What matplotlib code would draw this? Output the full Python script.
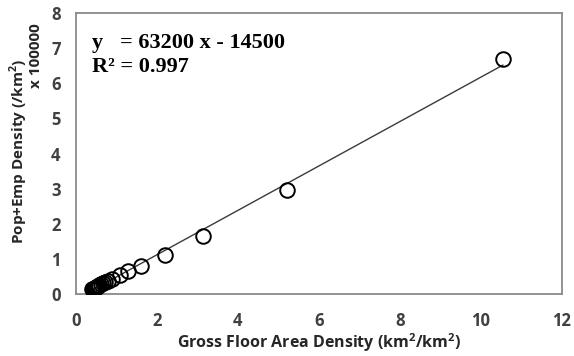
import matplotlib
matplotlib.use("Agg")
import matplotlib.pyplot as plt
import numpy as np

# Data (x: gross floor area density, y: pop+emp density in units of 100000 /km2)
gfa_density = [0.40, 0.42, 0.44, 0.46, 0.48, 0.50, 0.52, 0.55, 0.58, 0.62,
               0.67, 0.72, 0.78, 0.90, 1.08, 1.29, 1.61, 2.19, 3.14, 5.21, 10.54]
pop_emp_density = [0.13, 0.14, 0.15, 0.17, 0.18, 0.19, 0.21, 0.23, 0.25, 0.28,
                   0.31, 0.34, 0.38, 0.44, 0.53, 0.66, 0.81, 1.12, 1.65, 2.97, 6.68]
slope = 63200
intercept = -14500
scale = 100000

x_ticks = [0, 2, 4, 6, 8, 10, 12]
y_ticks = [0, 1, 2, 3, 4, 5, 6, 7, 8]

sans = ["Open Sans", "DejaVu Sans"]
tick_color = "#404040"
spine_color = "#8a8a8a"

fig = plt.figure(figsize=(5.74, 3.56), dpi=100)
ax = fig.add_axes([0.1324, 0.174, 0.979 - 0.1324, 0.9635 - 0.174])

x = np.array(gfa_density)
y = np.array(pop_emp_density)
xl = np.array([x.min(), x.max()])
ax.plot(xl, (slope * xl + intercept) / scale, color="#3a3a3a", lw=1.0, zorder=2)
ax.plot(x, y, linestyle="none", marker="o", markersize=10.5, markerfacecolor="none",
        markeredgecolor="black", markeredgewidth=1.4, zorder=3)

ax.set_xlim(0, 12)
ax.set_ylim(0, 8)
ax.set_xticks(x_ticks)
ax.set_yticks(y_ticks)
ax.tick_params(length=0, labelsize=12, colors=tick_color)
ax.tick_params(axis="x", pad=13)
ax.tick_params(axis="y", pad=11)
for lab in ax.get_xticklabels() + ax.get_yticklabels():
    lab.set_fontfamily(sans)
    lab.set_fontweight("bold")
for s in ax.spines.values():
    s.set_color(spine_color)
    s.set_linewidth(1.3)

ax.set_xlabel("Gross Floor Area Density (km$^{\\mathregular{2}}$/km$^{\\mathregular{2}}$)",
              fontsize=11.5, fontweight="bold", family=sans, color="#262626", labelpad=1)
fig.text(0.032, 0.574, "Pop+Emp Density (/km$^{\\mathregular{2}}$)", rotation=90,
         fontsize=11, fontweight="bold", family=sans, color="#262626",
         ha="center", va="center")
fig.text(0.062, 0.845, "x 100000", rotation=90, fontsize=11, fontweight="bold",
         family=sans, color="#262626", ha="center", va="center")

ax.text(0.033, 0.93, "y   = 63200 x - 14500\nR\u00b2 = 0.997", transform=ax.transAxes,
        fontsize=16, fontweight="bold", family=["Liberation Serif", "DejaVu Serif"],
        va="top", ha="left", linespacing=1.3,
        bbox=dict(facecolor="white", edgecolor="none", pad=2))

fig.savefig("out.png", dpi=100)
